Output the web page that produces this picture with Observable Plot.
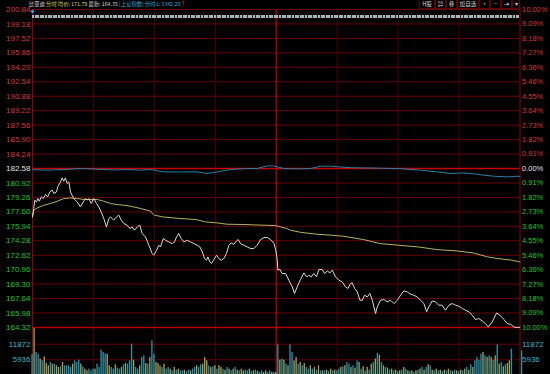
<!DOCTYPE html>
<html><head><meta charset="utf-8">
<script src="https://cdn.jsdelivr.net/npm/d3@7"></script>
<script src="https://cdn.jsdelivr.net/npm/@observablehq/plot@0.6"></script>
<style>
html,body{margin:0;padding:0;background:#000;}
#wrap{position:relative;width:550px;height:374px;overflow:hidden;background:#000;}
#wrap svg{position:absolute;left:0;}
#title{position:absolute;left:29px;top:0;height:9px;line-height:8px;font-family:"Noto Sans CJK SC",sans-serif;font-size:5.3px;white-space:nowrap;color:#d8d8d8;z-index:3;}
#title .y{color:#d6d24a;} #title .b{color:#3aa6d0;} #title .r{color:#e03030;}
#tools{position:absolute;top:0;left:419px;width:101px;height:9px;display:flex;font-family:"Noto Sans CJK SC",sans-serif;font-size:5.6px;line-height:8px;color:#cfcfcf;z-index:3;background:#000;}
#tools span{box-sizing:border-box;border:1px solid #5a0000;border-top:none;text-align:center;overflow:hidden;white-space:nowrap;}
#events{position:absolute;left:32px;top:15px;width:487px;height:3px;background:repeating-linear-gradient(90deg,#aab3b3 0 2px,#202424 2px 2.6px);z-index:3;}
#dot{position:absolute;left:31px;top:9.5px;width:3px;height:3px;background:#2aa8e8;transform:rotate(45deg);z-index:4;}
</style></head><body>
<div id="wrap">
  <div id="title">比亚迪 <span class="y">分时 均价: 171.79</span> 最新: 164.35 <span class="b">[上证指数] 分时1: 3342.20</span><span class="r">↑</span></div>
  <div id="tools"><span style="width:16px">H股</span><span style="width:11px">异</span><span style="width:11px">叠</span><span style="width:22px">加自选</span><span style="width:11px">+</span><span style="width:11px">−</span><span style="width:11px">⇥</span><span style="width:8px">▾</span></div>
  <div id="events"></div>
  <div id="dot"></div>
</div>
<script>
const prevClose = 182.58;
const priceTicks = [200.84,199.18,197.52,195.86,194.20,192.54,190.88,189.22,187.56,185.90,184.24,182.58,180.92,179.26,177.60,175.94,174.28,172.62,170.96,169.30,167.64,165.98,164.32];
const pctLabels = ["10.00%","9.09%","8.18%","7.27%","6.36%","5.46%","4.55%","3.64%","2.73%","1.82%","0.91%","0.00%","0.91%","1.82%","2.73%","3.64%","4.55%","5.46%","6.36%","7.27%","8.18%","9.09%","10.00%"];
const volTicks = [11872, 5936];
const halfHours = [30, 60, 90, 150, 180, 210];

// [minute, price]
const priceSeries = [[0,177.02],[0.6,177.99],[1.1,178.94],[2.0,178.74],[2.6,179.13],[3.4,178.82],[4.3,179.32],[5.3,179.13],[6.4,179.59],[7.5,179.32],[8.5,179.89],[9.7,180.09],[10.5,179.71],[11.8,179.89],[12.4,180.47],[13.8,181.04],[14.6,181.50],[15.4,181.12],[16.2,181.50],[17.1,180.86],[17.9,181.04],[18.7,179.89],[19.5,179.51],[20.3,179.13],[22.0,178.74],[23.6,178.17],[25.0,178.74],[26.1,179.13],[26.9,178.94],[27.7,179.13],[28.9,178.56],[30.2,179.13],[31.5,178.56],[32.6,178.17],[33.8,177.59],[35.1,176.84],[36.4,175.87],[37.6,176.84],[38.4,177.02],[40.0,176.64],[41.4,177.02],[42.5,177.22],[43.7,176.64],[45.0,176.26],[46.6,176.07],[47.9,175.69],[49.1,175.87],[50.2,175.49],[51.6,175.87],[52.8,176.07],[54.0,175.11],[55.6,174.72],[57.3,173.77],[58.9,172.82],[59.7,172.62],[61.1,173.19],[62.2,173.77],[63.0,173.57],[64.4,174.54],[65.5,174.34],[67.1,174.15],[68.8,173.96],[69.9,174.15],[70.9,174.72],[72.0,175.11],[73.2,174.54],[74.5,174.15],[76.2,174.34],[77.8,174.15],[79.4,173.96],[81.1,173.77],[82.4,173.57],[83.6,173.00],[84.7,172.24],[85.7,172.05],[86.3,172.43],[87.3,171.85],[88.1,171.67],[89.3,172.13],[90.6,172.62],[91.7,172.24],[92.9,172.05],[94.2,172.24],[95.5,172.82],[96.7,173.77],[97.8,174.03],[99.1,173.88],[100.4,174.26],[101.3,174.42],[102.4,173.96],[104.0,173.77],[105.7,173.57],[107.3,173.39],[109.0,173.39],[110.6,173.77],[112.3,174.42],[113.9,174.65],[115.6,174.65],[117.2,174.42],[118.8,174.00],[119.8,173.19],[120.5,172.05],[120.8,170.90],[121.8,170.98],[122.9,170.52],[124.6,170.52],[126.2,169.75],[127.9,168.98],[129.0,168.22],[130.3,168.98],[131.9,169.83],[133.6,170.59],[134.9,170.13],[136.0,170.32],[137.2,170.13],[138.5,170.52],[139.8,170.13],[141.0,170.98],[142.6,170.98],[143.8,170.52],[145.1,170.82],[146.4,170.59],[147.6,170.90],[149.2,170.13],[150.8,169.75],[152.5,169.55],[154.1,168.98],[155.3,168.80],[156.6,169.37],[157.4,169.44],[158.6,168.80],[159.9,168.40],[161.2,167.45],[162.3,167.45],[163.5,168.03],[164.8,167.83],[166.1,168.22],[167.3,167.45],[168.9,165.92],[169.7,166.68],[171.3,167.45],[173.0,167.53],[174.6,167.26],[176.3,167.45],[177.9,167.07],[179.6,167.45],[181.2,168.03],[182.8,168.52],[184.5,168.40],[186.1,168.14],[187.7,168.03],[189.4,167.83],[191.0,167.45],[192.7,167.07],[194.0,166.11],[195.1,166.68],[196.8,167.37],[198.4,167.26],[200.0,166.88],[201.7,166.88],[203.3,166.30],[205.0,166.88],[206.6,167.07],[208.3,166.88],[209.9,166.76],[211.6,166.50],[213.2,166.30],[214.9,166.11],[216.5,165.73],[218.1,165.23],[219.7,165.35],[221.4,165.07],[223.0,164.77],[224.4,164.38],[226.3,164.96],[228.5,165.99],[230.1,165.73],[232.1,165.23],[233.7,164.77],[235.4,164.69],[237.0,164.38],[238.6,164.32],[240,164.35]];

// [minute, average price]
const avgSeries = [[0,177.02],[0.6,177.8],[2.3,178.05],[5.6,178.36],[8.9,178.56],[12.2,178.82],[15.4,179.13],[18.7,179.2],[22,179.13],[25.3,179.02],[31.9,179.02],[35.1,178.82],[38.4,178.56],[41.7,178.44],[45,178.36],[48.2,178.25],[53.2,177.99],[56.4,177.79],[57.8,177.71],[60.1,177.22],[64.2,177.02],[72.4,176.84],[80.6,176.72],[85.1,176.45],[91,176.33],[95.8,176.18],[104,176.15],[112,176.08],[119.5,176.03],[121,175.95],[125,175.7],[127,175.49],[132,175.25],[140,175.03],[147,174.92],[153,174.8],[163,174.42],[171,173.96],[180,173.77],[190,173.57],[199,173.27],[209,173.11],[217,172.88],[224,172.43],[229,172.24],[236,172.05],[240,171.85]];

// [minute, Shanghai index % change]
const indexPct = [[0,-0.07],[7.2,-0.107],[15.4,-0.063],[23.6,0],[31.9,-0.044],[40,-0.088],[48.3,-0.063],[53.2,-0.107],[58.1,-0.063],[64.6,-0.214],[72.9,-0.214],[81.1,-0.214],[86,-0.315],[90.9,-0.214],[97.5,-0.063],[105.7,0],[110.6,0],[115.6,0.164],[118.8,0.164],[123.7,0],[130.3,-0.025],[136.9,0],[141.8,0.145],[146.7,0.145],[156.6,0.05],[171.3,0.019],[181.2,-0.013],[191,-0.107],[198.4,-0.2],[205.8,-0.315],[212.4,-0.277],[219,-0.359],[222.2,-0.422],[227.1,-0.485],[233.7,-0.529],[238.6,-0.485],[240,-0.5]];

// volume per minute (0..240)
const volumes = [8080,17800,8710,8080,6190,5560,7070,4550,3670,4930,4300,4300,3670,3040,3290,4930,3670,3670,3670,3040,4300,5560,4930,5810,4300,3290,2410,1780,2410,1780,2410,2410,4300,3040,9590,8710,8080,8080,3670,3040,2410,4050,2790,2410,3040,4050,4550,4300,5560,11870,5810,3040,2410,3670,6820,7450,4550,4300,6820,13120,8080,4930,4550,3670,3040,4300,2410,3040,2410,1780,3040,2030,2410,1780,1780,2030,1530,2030,1780,2410,3040,3670,3040,4050,4300,6820,5560,3670,3040,3290,3670,2410,3670,3040,2410,2030,3040,2410,1780,2410,3040,2030,1780,2410,1780,2030,1780,2410,1530,1780,2030,1530,1150,1780,1150,1780,1150,1780,1150,1150,1150,
11600,5810,6190,5810,4300,3670,11600,8710,5560,6820,4300,4930,3670,4550,3040,2410,3670,2410,3040,2030,3670,1780,1780,1780,2030,1530,2410,1780,2030,1780,2410,3040,3290,3670,4930,4300,3040,3670,2790,5560,4930,2410,3290,1780,3040,2030,4300,4930,6190,8330,7700,4930,3670,3040,2790,2030,2410,1780,2030,1530,1780,2030,3040,2410,1780,1530,1780,1150,1780,2030,2410,3040,2030,3040,4050,3670,2030,1780,2410,1780,2030,1530,2030,1780,2410,1780,1530,2030,1780,1530,2030,1780,2410,3040,2030,4050,3040,
5560,6820,5810,8080,8710,7450,6820,7450,6820,5810,7450,11600,4300,4930,3290,4050,4550,5560,9970,5810,0,0,0,9340];
// tick direction per minute: Y = up tick, T = down tick, N = none, G = closing auction
const tickDir = ("TYTTY" + "TYYYTYTYYTYTTTTYTTTYTYYT" +
  "TTYTTTTTYY" + "TTYTTYTYTT" + "TYTTYTTYTY" + "TTYYYTYTTY" + "TYTYTTYTTY" + "TTYTTYYYTY" + "TYTYYTYTYT" + "YTYTYYTTYT" + "YTYTTYYTTYT" + "Y" +
  "TYTYTYTTYY" + "TYTYTTYTYT" + "YTYTYTYTYT" + "TYTYTTYTYT" + "YTYTYTYTYT" + "YTYTYTYTYT" + "YTYTYTYTYT" + "YTYTYTYTYT" + "YTYTYTYTYT" + "YTYTYTY" +
  "TTTTYTYTYTYTYTYTYYT" + "NNN" + "G").split("");

const RED = "#d23a3a", GREEN = "#1ec81e", WHITE = "#e0e0e0", CYAN = "#3ab4cc";
const labelColor = v => v > prevClose ? RED : v < prevClose ? GREEN : WHITE;
const barColor = {Y: "#a89f5a", T: "#2a93aa", G: "#9a9a9a", N: "#000"};
const volData = volumes.map((v, i) => ({m: i, v, c: barColor[tickDir[i]] || "#2a93aa"}));

const common = {
  width: 550, marginLeft: 32, marginRight: 30.5,
  x: {domain: [0, 240], axis: null},
  color: {type: "identity"},
  style: {background: "transparent", overflow: "visible", fontFamily: "'Liberation Sans', Arial, sans-serif", fontSize: "8px"}
};

const priceChart = Plot.plot({
  ...common,
  height: 328, marginTop: 9, marginBottom: 1,
  y: {domain: [164.32, 200.84], axis: null},
  marks: [
    Plot.ruleY(priceTicks.filter(v => v !== prevClose && v !== 164.32), {stroke: "#6a0000"}),
    Plot.ruleX(halfHours, {stroke: "#4c0000"}),
    Plot.ruleX([120], {stroke: "#b00000", strokeWidth: 1.3}),
    Plot.ruleX([0, 240], {stroke: "#8c0000"}),
    Plot.ruleY([prevClose], {stroke: "#c80000", strokeWidth: 1.6}),
    Plot.ruleY([164.32], {stroke: "#b40000", strokeWidth: 1.3}),
    Plot.line(indexPct, {x: d => d[0], y: d => prevClose * (1 + d[1] / 100), stroke: "#2b80a8", strokeWidth: 1}),
    Plot.line(avgSeries, {x: d => d[0], y: d => d[1], stroke: "#b8b25c", strokeWidth: 1}),
    Plot.line(priceSeries, {x: d => d[0], y: d => d[1], stroke: "#dadada", strokeWidth: 1}),
    Plot.text(priceTicks, {x: 0, y: d => d, text: d => d.toFixed(2), textAnchor: "end", dx: -2, fill: labelColor, fontSize: 8}),
    Plot.text(priceTicks, {x: 240, y: d => d, text: (d, i) => pctLabels[i], textAnchor: "start", dx: 2, fill: labelColor, fontSize: 7.5})
  ]
});

const volChart = Plot.plot({
  ...common,
  height: 48, marginTop: 1, marginBottom: 0,
  y: {domain: [0, 17808], axis: null},
  marks: [
    Plot.ruleY(volTicks, {stroke: "#6a0000"}),
    Plot.ruleX(halfHours, {stroke: "#4c0000"}),
    Plot.ruleX([120], {stroke: "#b00000", strokeWidth: 1.3}),
    Plot.ruleX([0, 240], {stroke: "#8c0000"}),
    Plot.rect(volData.filter(d => d.v > 0), {x1: d => d.m - 0.3, x2: d => d.m + 0.35, y1: 0, y2: "v", fill: "c"}),
    Plot.text(volTicks, {x: 0, y: d => d, text: d => String(d), textAnchor: "end", dx: -2, fill: CYAN, fontSize: 8}),
    Plot.text(volTicks, {x: 240, y: d => d, text: d => String(d), textAnchor: "start", dx: 2, fill: CYAN, fontSize: 8})
  ]
});

priceChart.style.top = "0px";
volChart.style.top = "327px";
const wrap = document.getElementById("wrap");
wrap.appendChild(priceChart);
wrap.appendChild(volChart);
</script>
</body></html>
